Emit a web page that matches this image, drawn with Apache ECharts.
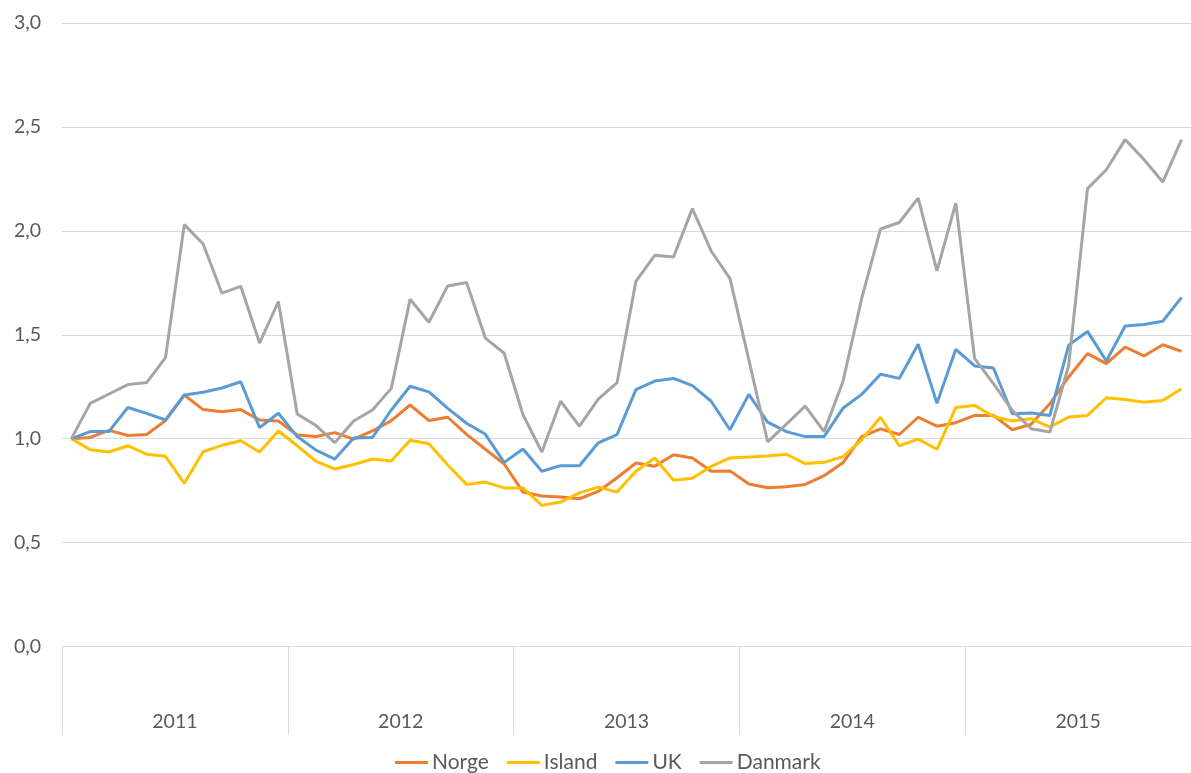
<!DOCTYPE html>
<html>
<head>
<meta charset="utf-8">
<script src="https://cdn.jsdelivr.net/npm/echarts@6/dist/echarts.min.js"></script>
<style>
  html, body { margin: 0; padding: 0; background: #fff; }
  #chart { width: 1191px; height: 773px; }
</style>
</head>
<body>
<div id="chart"></div>
<script>
'use strict';

// Kategorier: år og måneder
const years = ['2011', '2012', '2013', '2014', '2015'];
const months = [];
years.forEach((y) => {
  for (let m = 1; m <= 12; m++) months.push(y + '-' + (m < 10 ? '0' + m : m));
});

const seriesNames = ['Norge', 'Island', 'UK', 'Danmark'];

const norge = [
  1.00, 1.006, 1.04, 1.015, 1.02, 1.087, 1.21, 1.14, 1.13, 1.14, 1.09, 1.085,
  1.018, 1.01, 1.029, 0.998, 1.037, 1.087, 1.162, 1.087, 1.103, 1.021, 0.949, 0.878,
  0.743, 0.724, 0.719, 0.711, 0.746, 0.812, 0.883, 0.867, 0.923, 0.907, 0.843, 0.845,
  0.782, 0.764, 0.769, 0.78, 0.822, 0.884, 1.01, 1.047, 1.02, 1.103, 1.06, 1.077,
  1.112, 1.112, 1.043, 1.069, 1.168, 1.297, 1.409, 1.361, 1.441, 1.398, 1.452, 1.42
];

const island = [
  1.00, 0.947, 0.936, 0.966, 0.925, 0.915, 0.785, 0.937, 0.968, 0.99, 0.936, 1.037,
  0.966, 0.891, 0.854, 0.876, 0.902, 0.893, 0.992, 0.976, 0.873, 0.78, 0.791, 0.763,
  0.763, 0.679, 0.695, 0.739, 0.767, 0.743, 0.843, 0.907, 0.80, 0.81, 0.867, 0.907,
  0.912, 0.917, 0.925, 0.88, 0.886, 0.913, 0.994, 1.103, 0.966, 0.998, 0.949, 1.15,
  1.16, 1.107, 1.085, 1.096, 1.056, 1.104, 1.112, 1.197, 1.188, 1.175, 1.184, 1.24
];

const uk = [
  1.00, 1.034, 1.035, 1.15, 1.122, 1.09, 1.21, 1.223, 1.244, 1.274, 1.053, 1.122,
  1.01, 0.945, 0.902, 1.003, 1.006, 1.138, 1.252, 1.225, 1.146, 1.074, 1.021, 0.886,
  0.95, 0.843, 0.87, 0.87, 0.98, 1.02, 1.236, 1.277, 1.29, 1.255, 1.18, 1.043,
  1.213, 1.08, 1.034, 1.01, 1.01, 1.146, 1.213, 1.31, 1.29, 1.454, 1.17, 1.43,
  1.35, 1.34, 1.12, 1.124, 1.112, 1.45, 1.516, 1.374, 1.542, 1.549, 1.565, 1.68
];

const danmark = [
  1.00, 1.17, 1.215, 1.26, 1.27, 1.39, 2.03, 1.937, 1.70, 1.733, 1.46, 1.66,
  1.119, 1.063, 0.981, 1.085, 1.138, 1.242, 1.671, 1.56, 1.735, 1.751, 1.484, 1.411,
  1.115, 0.936, 1.18, 1.06, 1.19, 1.27, 1.757, 1.882, 1.874, 2.107, 1.903, 1.77,
  1.38, 0.985, 1.07, 1.157, 1.034, 1.274, 1.675, 2.009, 2.04, 2.157, 1.807, 2.133,
  1.385, 1.265, 1.136, 1.048, 1.032, 1.353, 2.203, 2.294, 2.439, 2.343, 2.235, 2.439
];

const colors = ['#ED7D31', '#FFC000', '#5B9BD5', '#A5A5A5'];
const fontFamily = 'Lato, "Open Sans", sans-serif';

const chart = echarts.init(document.getElementById('chart'));

const option = {
  animation: false,
  color: colors,
  grid: { left: 62, right: 0, top: 23, bottom: 126.5 },
  legend: {
    top: 752,
    left: 395,
    padding: 0,
    itemWidth: 33,
    itemHeight: 3,
    itemGap: 18,
    icon: 'rect',
    textStyle: { fontFamily, fontSize: 21, color: '#595959', padding: [0, 0, 0, -1] },
    data: seriesNames
  },
  xAxis: [
    {
      type: 'category',
      data: months,
      boundaryGap: true,
      axisLine: { show: true, lineStyle: { color: '#d9d9d9' } },
      axisTick: { show: false },
      axisLabel: { show: false }
    },
    {
      type: 'category',
      data: years,
      position: 'bottom',
      boundaryGap: true,
      axisLine: { show: false },
      axisTick: { show: true, length: 88, lineStyle: { color: '#d9d9d9' } },
      axisLabel: { margin: 65, fontFamily, fontSize: 19.5, color: '#595959' }
    }
  ],
  yAxis: {
    type: 'value',
    min: 0,
    max: 3,
    interval: 0.5,
    axisLine: { show: false },
    axisTick: { show: false },
    splitLine: { lineStyle: { color: '#d9d9d9' } },
    axisLabel: {
      margin: 21,
      fontFamily,
      fontSize: 19.5,
      color: '#595959',
      formatter: (v) => v.toFixed(1).replace('.', ',')
    }
  },
  series: [norge, island, uk, danmark].map((d, i) => ({
    name: seriesNames[i],
    type: 'line',
    xAxisIndex: 0,
    data: d,
    symbol: 'none',
    lineStyle: { width: 3, color: colors[i] },
    itemStyle: { color: colors[i] }
  }))
};

chart.setOption(option);
</script>
</body>
</html>
